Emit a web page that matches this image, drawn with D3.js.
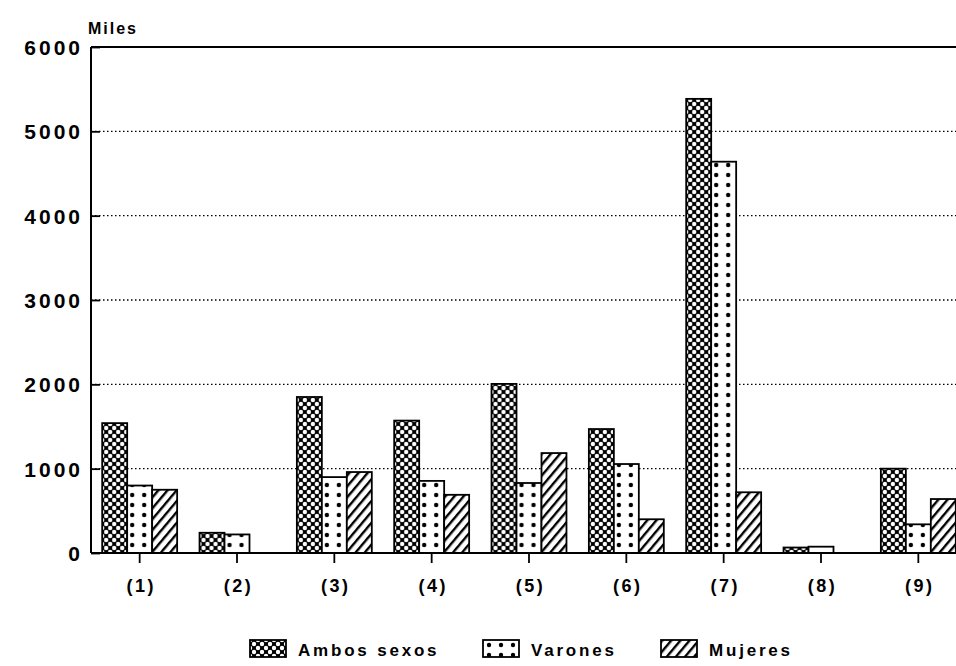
<!DOCTYPE html>
<html>
<head>
<meta charset="utf-8">
<script src="https://cdn.jsdelivr.net/npm/d3@7"></script>
<style>
  body { margin: 0; background: #fff; }
  svg text { font-family: "Liberation Sans", Arial, sans-serif; font-weight: bold; fill: #000; }
</style>
</head>
<body>
<svg id="chart"></svg>
<script>
// data (miles)
const categories = ['(1)', '(2)', '(3)', '(4)', '(5)', '(6)', '(7)', '(8)', '(9)'];
const series = ['Ambos sexos', 'Varones', 'Mujeres'];
const ambos   = [1540, 240, 1850, 1570, 2005, 1470, 5385, 65, 1000];
const varones = [800, 220, 900, 855, 830, 1055, 4640, 75, 340];
const mujeres = [750, 0, 960, 690, 1185, 400, 720, 0, 640];
const yTicks = [0, 1000, 2000, 3000, 4000, 5000, 6000];

const width = 956, height = 666;
const margin = {top: 47, right: -11, bottom: 113, left: 91};

const svg = d3.select('#chart').attr('width', width).attr('height', height);

// patterns
const defs = svg.append('defs');
const pCross = defs.append('pattern').attr('id', 'p-ambos')
    .attr('patternUnits', 'userSpaceOnUse').attr('width', 8).attr('height', 8);
pCross.append('rect').attr('width', 8).attr('height', 8).attr('fill', '#000');
[[4, 4], [0, 0], [8, 0], [0, 8], [8, 8]].forEach(c => {
    pCross.append('circle').attr('cx', c[0]).attr('cy', c[1]).attr('r', 2.2).attr('fill', '#fff');
});

const pDots = defs.append('pattern').attr('id', 'p-varones')
    .attr('patternUnits', 'userSpaceOnUse').attr('width', 12).attr('height', 10);
pDots.append('rect').attr('width', 12).attr('height', 10).attr('fill', '#fff');
pDots.append('circle').attr('cx', 6).attr('cy', 5).attr('r', 2.2).attr('fill', '#000');

const pDiag = defs.append('pattern').attr('id', 'p-mujeres')
    .attr('patternUnits', 'userSpaceOnUse').attr('width', 7).attr('height', 7)
    .attr('patternTransform', 'rotate(40)');
pDiag.append('rect').attr('width', 7).attr('height', 7).attr('fill', '#fff');
pDiag.append('rect').attr('x', 0).attr('width', 2.4).attr('height', 7).attr('fill', '#000');

const fills = ['url(#p-ambos)', 'url(#p-varones)', 'url(#p-mujeres)'];

const data = categories.map((c, i) => ({cat: c, values: [ambos[i], varones[i], mujeres[i]]}));

// scales
const x = d3.scaleBand()
    .domain(categories)
    .range([margin.left, width - margin.right])
    .paddingInner(0.23)
    .paddingOuter(0.115);
const xs = d3.scaleBand().domain(series).range([0, x.bandwidth()]);
const y = d3.scaleLinear().domain([0, 6000]).range([height - margin.bottom, margin.top]);

// gridlines
svg.append('g').selectAll('line').data(yTicks.filter(d => d > 0 && d < 6000)).enter()
    .append('line')
    .attr('x1', margin.left).attr('x2', width)
    .attr('y1', d => y(d)).attr('y2', d => y(d))
    .attr('stroke', '#000').attr('stroke-width', 1.4).attr('stroke-dasharray', '1.5,2.5');

svg.append('line')
    .attr('x1', margin.left).attr('x2', width)
    .attr('y1', y(6000)).attr('y2', y(6000))
    .attr('stroke', '#000').attr('stroke-width', 2);

// bars
const groups = svg.append('g').selectAll('g').data(data).enter()
    .append('g').attr('transform', d => `translate(${x(d.cat)},0)`);
groups.selectAll('rect').data(d => d.values.map((v, k) => ({v, k}))).enter()
    .filter(d => d.v > 0)
    .append('rect')
    .attr('x', d => xs(series[d.k]))
    .attr('y', d => y(d.v))
    .attr('width', xs.bandwidth())
    .attr('height', d => y(0) - y(d.v))
    .attr('fill', d => fills[d.k])
    .attr('stroke', '#000').attr('stroke-width', 1.8);

// y axis
const yAxis = svg.append('g')
    .attr('transform', `translate(${margin.left},0)`)
    .call(d3.axisRight(y).tickValues(yTicks).tickSize(9).tickFormat(d3.format('d')));
yAxis.select('.domain').attr('stroke', '#000').attr('stroke-width', 2).attr('d', `M0,${y(6000)}V${y(0)}`);
yAxis.selectAll('.tick line').attr('stroke-width', 1.8);
yAxis.selectAll('text')
    .attr('x', -8).attr('dy', '0.36em')
    .attr('text-anchor', 'end')
    .style('font-size', '21px')
    .style('letter-spacing', '3px');

// x axis
const xAxis = svg.append('g')
    .attr('transform', `translate(0,${y(0)})`)
    .call(d3.axisBottom(x).tickSize(10).tickSizeOuter(0).tickPadding(16));
xAxis.select('.domain').attr('stroke', '#000').attr('stroke-width', 2)
    .attr('d', `M${margin.left},0H${width}`);
xAxis.selectAll('.tick line').attr('stroke-width', 1.8);
xAxis.selectAll('text').style('font-size', '18px').style('letter-spacing', '2.5px').attr('dx', '1.5px');

// unit label
svg.append('text').attr('x', 88).attr('y', 34)
    .style('font-size', '16px').style('letter-spacing', '2px').text('Miles');

// legend
const legendX = [250, 483, 661];
const legend = svg.append('g').selectAll('g').data(series).enter()
    .append('g').attr('transform', (d, i) => `translate(${legendX[i]},640)`);
legend.append('rect')
    .attr('width', 36).attr('height', 17)
    .attr('fill', (d, i) => fills[i])
    .attr('stroke', '#000').attr('stroke-width', 1.8);
legend.append('text')
    .attr('x', 48).attr('y', 16)
    .style('font-size', '17px')
    .style('letter-spacing', '2.8px')
    .text(d => d);
</script>
</body>
</html>
